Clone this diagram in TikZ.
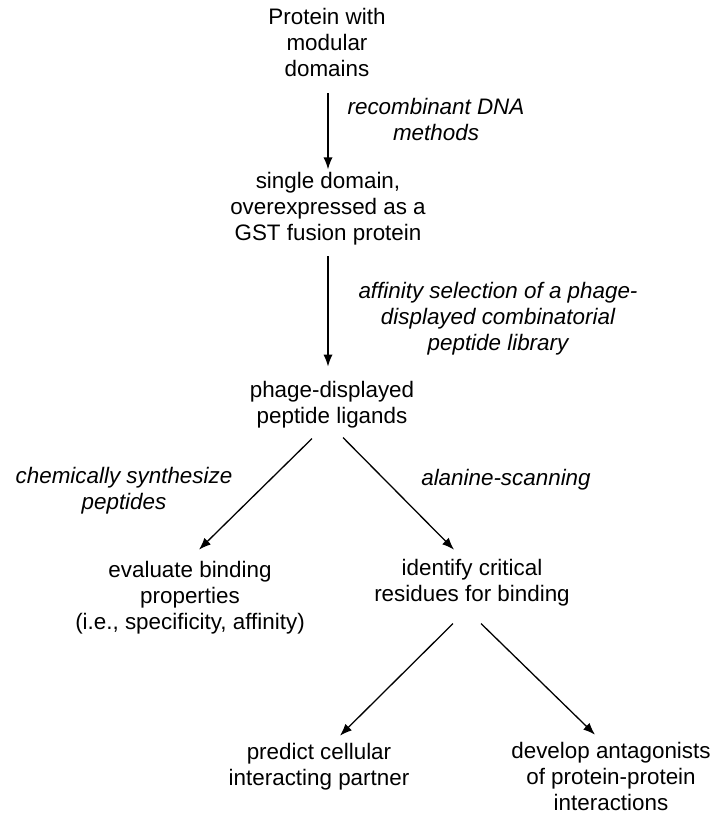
\documentclass[tikz,border=0pt]{standalone}
\usepackage{fontspec}
\setmainfont{Liberation Sans}
\usetikzlibrary{arrows.meta}

\begin{document}
\begin{tikzpicture}[x=0.5pt, y=-0.5pt,
  stage/.style={align=center, inner sep=0pt, anchor=base, font=\fontsize{11.2}{13}\selectfont},
  method/.style={stage, font=\fontsize{11.2}{13}\selectfont\itshape},
  flow/.style={line width=0.65pt, -{Latex[length=6pt, width=4.6pt]}}]

\useasboundingbox ( 0, 0 ) rectangle ( 717, 814 );

% Stages (placed at the baseline of their last line)
\node [stage] (protein) at ( 327, 76 ) {Protein with\\modular\\domains};
\node [stage] (domain) at ( 328, 240 ) {single domain,\\overexpressed as a\\GST fusion protein};
\node [stage] (phage) at ( 332, 423 ) {phage-displayed\\peptide ligands};
\node [stage] (evaluate) at ( 190, 629 ) {evaluate binding\\properties\\(i.e., specificity, affinity)};
\node [stage] (identify) at ( 472, 601 ) {identify critical\\residues for binding};
\node [stage] (predict) at ( 319, 785 ) {predict cellular\\interacting partner};
\node [stage] (develop) at ( 611, 810 ) {develop antagonists\\of protein-protein\\interactions};

% Methods
\node [method] (recomb) at ( 436, 140 ) {recombinant DNA\\methods};
\node [method] (select) at ( 498, 350 ) {affinity selection of a phage-\\displayed combinatorial\\peptide library};
\node [method] (synth) at ( 124, 509 ) {chemically synthesize\\peptides};
\node [method] (scan) at ( 506, 485 ) {alanine-scanning};

% Arrows
\draw [flow, shorten <=8.25pt, shorten >=1pt] (protein.south -| domain.north) -- (domain.north);
\draw [flow, shorten <=5.6pt, shorten >=6.9pt] (domain.south) -- (domain.south |- phage.north);
\draw [flow] ([shift={( -20, 10.5 )}]phage.south) -- ([shift={( 9, -10.7 )}]evaluate.north);
\draw [flow] ([shift={( 11, 9.5 )}]phage.south) -- ([shift={( -18, -8.7 )}]identify.north);
\draw [flow] ([shift={( -19, 17.5 )}]identify.south) -- ([shift={( 21, -6.7 )}]predict.north);
\draw [flow] ([shift={( 9, 17.5 )}]identify.south) -- ([shift={( -16, -6.7 )}]develop.north);

\end{tikzpicture}
\end{document}
